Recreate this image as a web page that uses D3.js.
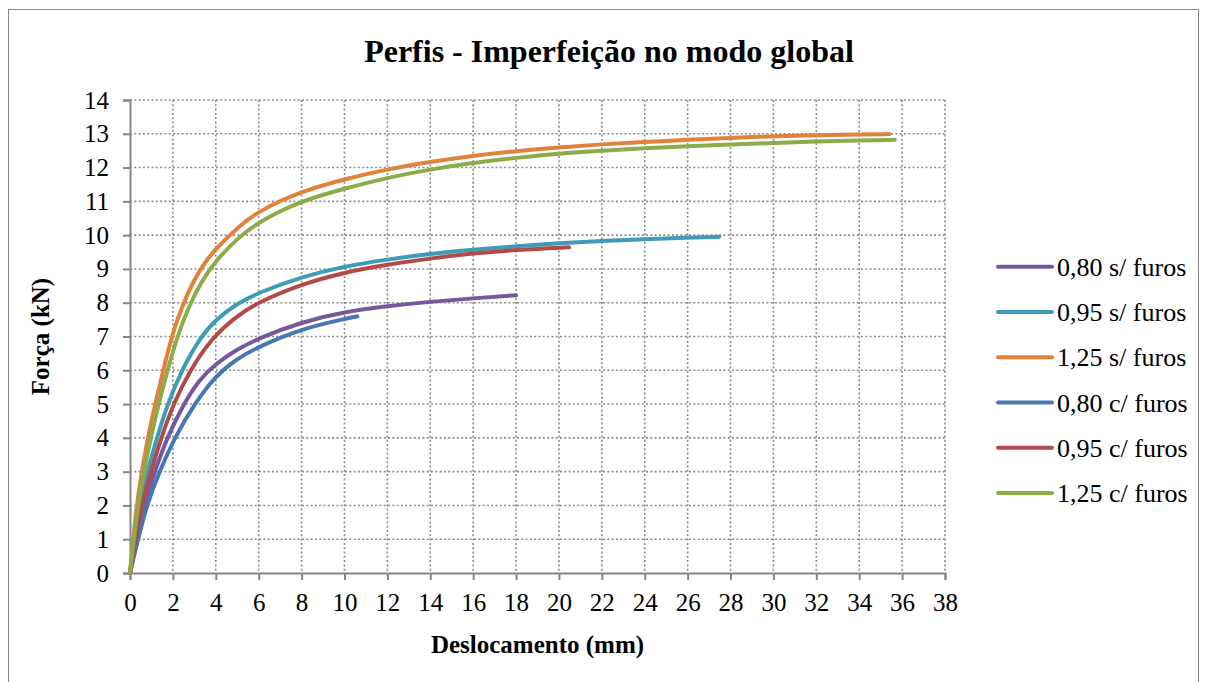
<!DOCTYPE html>
<html>
<head>
<meta charset="utf-8">
<script src="https://cdn.jsdelivr.net/npm/d3@7"></script>
<style>
  html, body { margin: 0; padding: 0; background: #fff; }
  svg { display: block; }
  text { font-family: "Liberation Serif", "Times New Roman", serif; fill: #000; }
</style>
</head>
<body>
<svg id="chart" width="1207" height="682"></svg>
<script>
// ---- data ----
const titleText = "Perfis - Imperfeição no modo global";
const xTitle = "Deslocamento (mm)";
const yTitle = "Força (kN)";
const xTicks = [0,2,4,6,8,10,12,14,16,18,20,22,24,26,28,30,32,34,36,38];
const yTicks = [0,1,2,3,4,5,6,7,8,9,10,11,12,13,14];
const seriesNames = ["0,80 s/ furos","0,95 s/ furos","1,25 s/ furos","0,80 c/ furos","0,95 c/ furos","1,25 c/ furos"];

const disp080s  = [0, 0.65, 1.15, 1.72, 2.5, 3.2, 4, 5, 6, 8, 10, 12, 14, 16, 18];
const force080s = [0, 2, 3, 4, 5, 5.7, 6.2, 6.62, 6.95, 7.43, 7.73, 7.9, 8.03, 8.13, 8.22];

const disp095s  = [0, 0.42, 0.82, 1.25, 1.75, 2.4, 3.3, 4, 5, 6, 8, 10, 12, 14, 16, 18, 20, 22, 24, 26, 27.47];
const force095s = [0, 2, 3, 4, 5, 6, 7, 7.5, 7.98, 8.3, 8.77, 9.08, 9.28, 9.45, 9.57, 9.67, 9.76, 9.83, 9.88, 9.93, 9.95];

const disp125s  = [0, 0.3, 0.55, 0.83, 1.17, 1.55, 2, 2.5, 3, 3.5, 4, 5, 6, 8, 10, 12, 14, 16, 18, 20, 22, 24, 26, 28, 30, 32, 34, 35.4];
const force125s = [0, 2, 3, 4, 5, 6, 7.15, 8, 8.7, 9.2, 9.6, 10.22, 10.72, 11.3, 11.66, 11.95, 12.17, 12.35, 12.49, 12.6, 12.69, 12.76, 12.82, 12.88, 12.93, 12.96, 12.98, 12.99];

const disp080c  = [0, 0.75, 1.38, 2.07, 3.0, 4, 5, 6, 8, 10, 10.6];
const force080c = [0, 2, 3, 4, 5, 5.85, 6.35, 6.7, 7.23, 7.52, 7.6];

const disp095c  = [0, 0.52, 0.98, 1.45, 2.02, 2.8, 3.8, 5, 6, 8, 10, 12, 14, 16, 18, 20.47];
const force095c = [0, 2, 3, 4, 5, 6, 6.95, 7.62, 8.02, 8.55, 8.9, 9.13, 9.31, 9.46, 9.57, 9.64];

const disp125c  = [0, 0.36, 0.65, 0.97, 1.33, 1.75, 2.2, 2.75, 3.3, 4, 5, 6, 8, 10, 12, 14, 16, 18, 20, 22, 24, 26, 28, 30, 32, 34, 35.66];
const force125c = [0, 2, 3, 4, 5, 6, 7, 7.9, 8.6, 9.25, 9.9, 10.4, 11.02, 11.38, 11.7, 11.95, 12.14, 12.29, 12.42, 12.5, 12.57, 12.63, 12.68, 12.73, 12.77, 12.8, 12.82];

const seriesColors = ["#76589c", "#3f9cb6", "#e0823a", "#4678b6", "#b24b48", "#8cab4b"];

// ---- build series ----
const dispArrays = [disp080s, disp095s, disp125s, disp080c, disp095c, disp125c];
const forceArrays = [force080s, force095s, force125s, force080c, force095c, force125c];
const series = seriesNames.map((name, i) => ({
  name, color: seriesColors[i],
  points: dispArrays[i].map((d, j) => ({x: d, y: forceArrays[i][j]}))
}));

// ---- layout ----
const svg = d3.select("#chart");
const plot = {left: 130, right: 945, top: 100, bottom: 573};

const x = d3.scaleLinear().domain([0, 38]).range([plot.left, plot.right]);
const y = d3.scaleLinear().domain([0, 14]).range([plot.bottom, plot.top]);

// outer border
svg.append("rect").attr("x", 8.5).attr("y", 9.5).attr("width", 1190).attr("height", 690)
  .attr("fill", "none").attr("stroke", "#888").attr("stroke-width", 1);

// title
svg.append("text").attr("x", 609).attr("y", 62).attr("text-anchor", "middle")
  .attr("font-size", 32).attr("font-weight", "bold").text(titleText);

// gridlines
const grid = svg.append("g").attr("stroke", "#8a8a8a").attr("stroke-width", 1.6)
  .attr("stroke-dasharray", "2,2.3");
grid.selectAll(".hg").data(yTicks.filter(d => d > 0)).enter().append("line")
  .attr("x1", plot.left).attr("x2", plot.right)
  .attr("y1", d => y(d)).attr("y2", d => y(d));
grid.selectAll(".vg").data(xTicks.filter(d => d > 0)).enter().append("line")
  .attr("y1", plot.top).attr("y2", plot.bottom)
  .attr("x1", d => x(d)).attr("x2", d => x(d));

// axes
const xAxis = d3.axisBottom(x).tickValues(xTicks).tickSize(7).tickPadding(13).tickFormat(d3.format("d"));
const yAxis = d3.axisLeft(y).tickValues(yTicks).tickSize(7).tickPadding(14).tickFormat(d3.format("d"));

const gx = svg.append("g").attr("transform", `translate(0,${plot.bottom})`).call(xAxis);
const gy = svg.append("g").attr("transform", `translate(${plot.left},0)`).call(yAxis);
[gx, gy].forEach(g => {
  g.select(".domain").attr("stroke", "#868686").attr("stroke-width", 2);
  g.selectAll(".tick line").attr("stroke", "#868686").attr("stroke-width", 2);
  g.selectAll(".tick text").attr("font-family", "Liberation Serif, Times New Roman, serif")
    .attr("font-size", 25).attr("fill", "#000");
});

// axis titles
svg.append("text").attr("x", (plot.left + plot.right) / 2).attr("y", 653)
  .attr("text-anchor", "middle").attr("font-size", 25).attr("font-weight", "bold").text(xTitle);
svg.append("text").attr("transform", `translate(49,${(plot.top + plot.bottom) / 2}) rotate(-90)`)
  .attr("text-anchor", "middle").attr("font-size", 25).attr("font-weight", "bold").text(yTitle);

// lines (smoothed like the original spreadsheet chart)
const line = d3.line().x(d => x(d.x)).y(d => y(d.y)).curve(d3.curveBasis);
svg.append("g").selectAll("path").data(series).enter().append("path")
  .attr("d", d => line(d.points))
  .attr("fill", "none").attr("stroke", d => d.color).attr("stroke-width", 4)
  .attr("stroke-linecap", "round").attr("stroke-linejoin", "round");

// legend
const legend = svg.append("g");
const leg = legend.selectAll("g").data(series).enter().append("g")
  .attr("transform", (d, i) => `translate(998,${266.7 + i * 45.25})`);
leg.append("line").attr("x1", 0).attr("x2", 54).attr("y1", 0).attr("y2", 0)
  .attr("stroke", d => d.color).attr("stroke-width", 4).attr("stroke-linecap", "round");
leg.append("text").attr("x", 59).attr("y", 0).attr("dy", "0.35em")
  .attr("font-size", 26).text(d => d.name);
</script>
</body>
</html>
